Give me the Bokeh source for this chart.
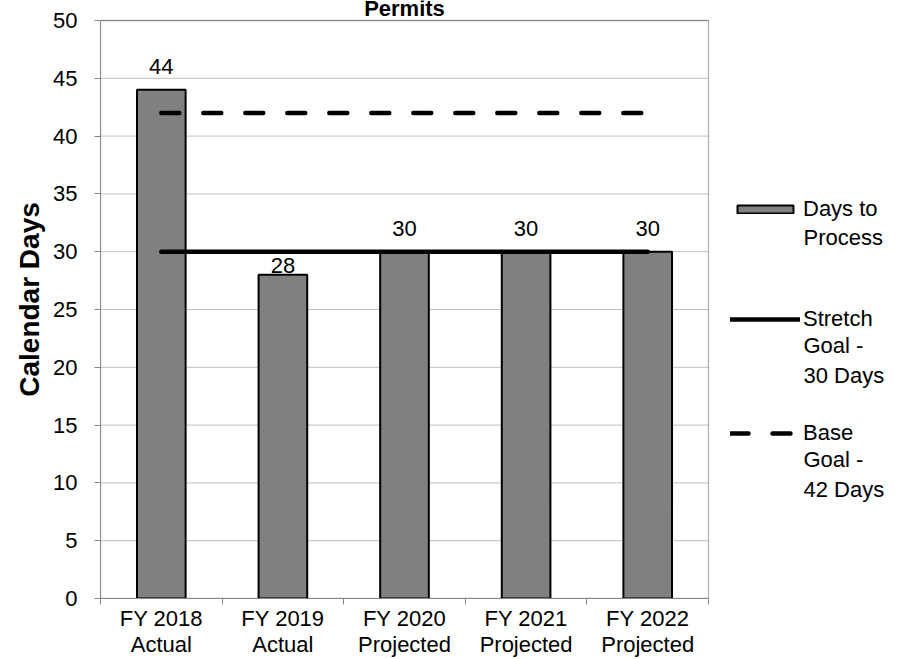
from bokeh.plotting import figure
from bokeh.models import (ColumnDataSource, FixedTicker, Label, LabelSet, Legend,
                          LegendItem, BoxAnnotation)
from bokeh.core.properties import value
from bokeh.embed import file_html
from bokeh.resources import INLINE

# ---- data ----
categories = ["FY 2018\nActual", "FY 2019\nActual", "FY 2020\nProjected",
              "FY 2021\nProjected", "FY 2022\nProjected"]
days_to_process = [44, 28, 30, 30, 30]
stretch_goal = [30, 30, 30, 30, 30]
base_goal = [42, 42, 42, 42, 42]
y_ticks = [0, 5, 10, 15, 20, 25, 30, 35, 40, 45, 50]
title_text = "Permits"
y_title = "Calendar Days"
legend_first = ["Days to", "Stretch", "Base"]
legend_rest = ["Process", "Goal -\n30 Days", "Goal -\n42 Days"]

# ---- style / layout ----
FONT = "Liberation Sans"
FS = "22px"
AXIS_GRAY = "#868686"
GRID_GRAY = "#c0c0c0"
label_shift = [16, 2, 16, 16, 16]  # px between bar top and value label

PLOT_W, PLOT_H = 608, 578      # the chart area in pixels
TOP_PAD, RIGHT_PAD = 20, 189   # space above / right of the chart area (title, legend)
LEFT_PAD = 100

n = len(categories)
y_min, y_max = y_ticks[0], y_ticks[-1]
x_lo, x_hi = -0.5, n - 0.5
ux = PLOT_W / (x_hi - x_lo)     # px per x unit
uy = PLOT_H / (y_max - y_min)   # px per y unit
x_end = x_hi + RIGHT_PAD / ux
y_end = y_max + TOP_PAD / uy

x = list(range(n))
source = ColumnDataSource(dict(
    x=x, days=days_to_process, stretch=stretch_goal, base=base_goal,
    label=[str(v) for v in days_to_process], shift=label_shift))

p = figure(frame_width=PLOT_W + RIGHT_PAD, frame_height=PLOT_H + TOP_PAD,
           x_range=(x_lo, x_end), y_range=(y_min, y_end),
           output_backend="svg", toolbar_location=None,
           min_border_left=LEFT_PAD, min_border_right=0, min_border_top=0, min_border_bottom=0)
p.outline_line_color = None
p.background_fill_color = "white"
p.border_fill_color = "white"
p.xgrid.visible = False
p.ygrid.visible = False

# grid lines limited to the chart area
p.segment(x0=[x_lo] * len(y_ticks), y0=y_ticks, x1=[x_hi] * len(y_ticks), y1=y_ticks,
          line_color=GRID_GRAY, line_width=1, level="underlay")
# top / right frame border
p.add_layout(BoxAnnotation(left=x_lo, right=x_hi, bottom=y_min, top=y_max,
                           fill_alpha=0, line_color="black", line_width=1.3, level="underlay"))

ya = p.yaxis[0]
ya.bounds = (y_min, y_max)
ya.ticker = FixedTicker(ticks=y_ticks)
ya.axis_line_color = AXIS_GRAY
ya.major_tick_line_color = AXIS_GRAY
ya.major_tick_out = 6
ya.major_tick_in = 0
ya.minor_tick_out = 0
ya.minor_tick_in = 0
ya.major_label_text_font = FONT
ya.major_label_text_font_size = FS
ya.major_label_text_color = "black"
ya.major_label_standoff = 17
ya.axis_label = y_title
ya.axis_label_text_font = FONT
ya.axis_label_text_font_style = "bold"
ya.axis_label_text_font_size = "28px"
ya.axis_label_text_color = "black"
ya.axis_label_standoff = 5

xa = p.xaxis[0]
xa.bounds = (x_lo, x_hi)
xa.ticker = FixedTicker(ticks=x, minor_ticks=[i - 0.5 for i in range(n + 1)])
xa.major_label_overrides = {i: c for i, c in enumerate(categories)}
xa.axis_line_color = AXIS_GRAY
xa.major_tick_out = 0
xa.major_tick_in = 0
xa.minor_tick_out = 6
xa.minor_tick_in = 0
xa.minor_tick_line_color = AXIS_GRAY
xa.major_label_text_font = FONT
xa.major_label_text_font_size = FS
xa.major_label_text_color = "black"
xa.major_label_text_line_height = 1.05
xa.major_label_standoff = 1

bars = p.vbar(x="x", top="days", width=0.4, source=source, fill_color="#808080",
              line_color="black", line_width=2)
stretch = p.line(x="x", y="stretch", source=source, line_color="black", line_width=4.5,
                 line_cap="round")
base = p.line(x="x", y="base", source=source, line_color="black", line_width=4.5,
              line_cap="round", line_dash="18 24")

labels = LabelSet(x="x", y="days", text="label", source=source, y_offset="shift",
                  text_align="center", text_baseline="alphabetic",
                  text_font=value(FONT), text_font_size=value(FS), text_color="black")
p.add_layout(labels)

p.add_layout(Label(x=(n - 1) / 2, y=y_max, y_offset=12, text=title_text, text_align="center",
                   text_baseline="alphabetic", text_font=FONT, text_font_size="22px",
                   text_font_style="bold", text_color="black"))

# legend: glyph + first line (Legend), continuation lines (Label)
FRAME_BOTTOM = PLOT_H + TOP_PAD
legend_first_mid = [208, 318, 432]     # px from top of picture
legend_rest_mid = [237, 360, 474]
legend_glyph_left = 730
legend_text_left = 803
for rend, first, rest, ymid, rmid in zip([bars, stretch, base], legend_first, legend_rest,
                                         legend_first_mid, legend_rest_mid):
    lg = Legend(items=[LegendItem(label=first, renderers=[rend])],
                location=(legend_glyph_left - LEFT_PAD, FRAME_BOTTOM - ymid - 13.5))
    lg.border_line_color = None
    lg.background_fill_alpha = 0
    lg.padding = 0
    lg.margin = 0
    lg.glyph_width = 70
    lg.glyph_height = 10
    lg.label_standoff = 3
    lg.label_text_font = FONT
    lg.label_text_font_size = FS
    lg.label_text_color = "black"
    lg.click_policy = "none"
    p.add_layout(lg)
    p.add_layout(Label(x=x_lo + (legend_text_left - LEFT_PAD) / ux,
                       y=y_min + (FRAME_BOTTOM - TOP_PAD - rmid + TOP_PAD) / uy,
                       text=rest, text_align="left", text_baseline="middle",
                       text_font=FONT, text_font_size=FS, text_color="black"))

open("out.html", "w").write(file_html(p, INLINE))
